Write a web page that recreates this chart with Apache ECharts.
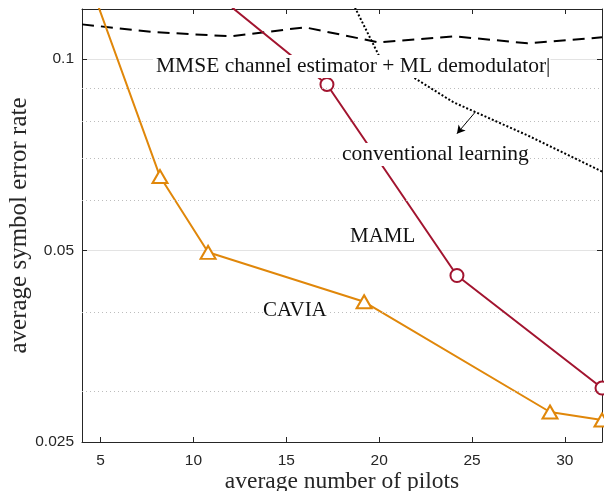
<!DOCTYPE html>
<html><head><meta charset="utf-8">
<script src="https://cdn.jsdelivr.net/npm/echarts@6/dist/echarts.min.js"></script>
<style>html,body{margin:0;padding:0;background:#fff}#c{width:604px;height:491px}</style>
</head><body><div id="c"></div>
<script>
const xTicks = [5, 10, 15, 20, 25, 30];
const yTickLabels = [0.025, 0.05, 0.1];
const yMinorGrid = [0.03, 0.04, 0.06, 0.07, 0.08, 0.09];
const mmseX = [4, 8, 12, 16, 20, 24, 28, 32];
const mmseY = [0.1135, 0.1103, 0.1087, 0.1123, 0.1063, 0.1087, 0.1060, 0.1083];
const convX = [16, 20, 24, 28, 32];
const convY = [0.1736, 0.1012, 0.0856, 0.0759, 0.0666];
const mamlX = [10.2, 17.19, 24.19, 32];
const mamlY = [0.1337, 0.0913, 0.0457, 0.0304];
const caviaX = [4, 8.2, 10.79, 19.19, 29.2, 32];
const caviaY = [0.1427, 0.0654, 0.0497, 0.04155, 0.02787, 0.02707];
const arrowFrom = [25.16, 0.0825];
const arrowTo = [24.19, 0.0764];

const pairs = (xs, ys) => xs.map((v, i) => [v, ys[i]]);
const SERIF = '"Liberation Serif", "DejaVu Serif", serif';
const SANS = '"Liberation Sans", Arial, sans-serif';
const axisCol = '#262626';

const chart = echarts.init(document.getElementById('c'), null, {renderer: 'canvas'});

function yAxisCfg(showLabels, pos) {
  return {
    type: 'log', logBase: 2, min: 0.025, max: 0.12, interval: 1, position: pos,
    axisLine: {show: true, lineStyle: {color: axisCol, width: 1}},
    axisTick: {show: true, inside: true, length: 5, lineStyle: {color: axisCol}},
    axisLabel: {
      show: showLabels, fontFamily: SANS, fontSize: 15.5, color: axisCol, margin: 8,
      showMaxLabel: false,
      formatter: v => {
        const r = +(+v).toPrecision(2);
        return yTickLabels.indexOf(r) >= 0 ? String(r) : '';
      }
    },
    splitLine: {show: showLabels, lineStyle: {color: '#e3e3e3', width: 1}},
    name: showLabels ? 'average symbol error rate' : '',
    nameLocation: 'middle', nameGap: 50, nameMoveOverlap: false,
    nameTextStyle: {fontFamily: SERIF, fontSize: 25, color: axisCol}
  };
}
function xAxisCfg(showLabels, pos) {
  return {
    type: 'value', min: 4, max: 32, position: pos,
    axisLine: {show: true, onZero: false, lineStyle: {color: axisCol, width: 1}},
    axisTick: {show: true, inside: true, length: 5, lineStyle: {color: axisCol},
      customValues: xTicks},
    axisLabel: {show: showLabels, fontFamily: SANS, fontSize: 15.5, color: axisCol, margin: 11,
      customValues: xTicks},
    splitLine: {show: false},
    name: showLabels ? 'average number of pilots' : '',
    nameLocation: 'middle', nameGap: 28, nameMoveOverlap: false,
    nameTextStyle: {fontFamily: SERIF, fontSize: 23.5, color: axisCol}
  };
}

const option = {
  animation: false,
  backgroundColor: '#fff',
  grid: {left: 82, right: 2, top: 9, bottom: 49, containLabel: false, outerBoundsMode: 'none'},
  xAxis: [xAxisCfg(true, 'bottom'), xAxisCfg(false, 'top')],
  yAxis: [yAxisCfg(true, 'left'), yAxisCfg(false, 'right')],
  series: [
    {
      type: 'line', name: 'grid', data: [], z: 1, silent: true,
      markLine: {
        silent: true, symbol: 'none', label: {show: false},
        lineStyle: {color: '#bdbdbd', type: [1, 3], width: 1},
        data: yMinorGrid.map(v => ({yAxis: v}))
      }
    },
    {
      type: 'line', name: 'MMSE', data: pairs(mmseX, mmseY), showSymbol: false, symbol: 'none',
      lineStyle: {color: '#000', width: 2, type: [12, 7]}, z: 3
    },
    {
      type: 'line', name: 'conventional', data: pairs(convX, convY), showSymbol: false, symbol: 'none',
      lineStyle: {color: '#000', width: 2, type: [2, 2]}, z: 3,
      markLine: {
        silent: true, symbol: ['none', 'arrow'], symbolSize: [7, 8], label: {show: false},
        lineStyle: {color: '#000', type: 'solid', width: 1},
        data: [[{coord: arrowFrom}, {coord: arrowTo}]]
      }
    },
    {
      type: 'line', name: 'MAML', data: pairs(mamlX, mamlY), symbol: 'circle', symbolSize: 13,
      lineStyle: {color: '#A2142F', width: 2},
      itemStyle: {color: '#fff', borderColor: '#A2142F', borderWidth: 2}, z: 4
    },
    {
      type: 'line', name: 'CAVIA', data: pairs(caviaX, caviaY), symbol: 'triangle', symbolSize: [15, 13],
      lineStyle: {color: '#E0870A', width: 2},
      itemStyle: {color: '#fff', borderColor: '#E0870A', borderWidth: 2}, z: 4
    }
  ],
  graphic: [
    {type: 'text', left: 153, top: 55, z: 100,
      style: {text: 'MMSE channel estimator + ML demodulator|', font: '21.5px ' + SERIF, fill: '#111',
        backgroundColor: '#fff', padding: [0, 0, 1, 3]}},
    {type: 'text', left: 341, top: 143, z: 100,
      style: {text: 'conventional learning', font: '21.5px ' + SERIF, fill: '#111',
        backgroundColor: '#fff', padding: [0, 1, 1, 1]}},
    {type: 'text', left: 350, top: 226, z: 100,
      style: {text: 'MAML', font: '21px ' + SERIF, fill: '#111', backgroundColor: '#fff'}},
    {type: 'text', left: 263, top: 300, z: 100,
      style: {text: 'CAVIA', font: '21px ' + SERIF, fill: '#111', backgroundColor: '#fff'}}
  ]
};
chart.setOption(option);
</script></body></html>
